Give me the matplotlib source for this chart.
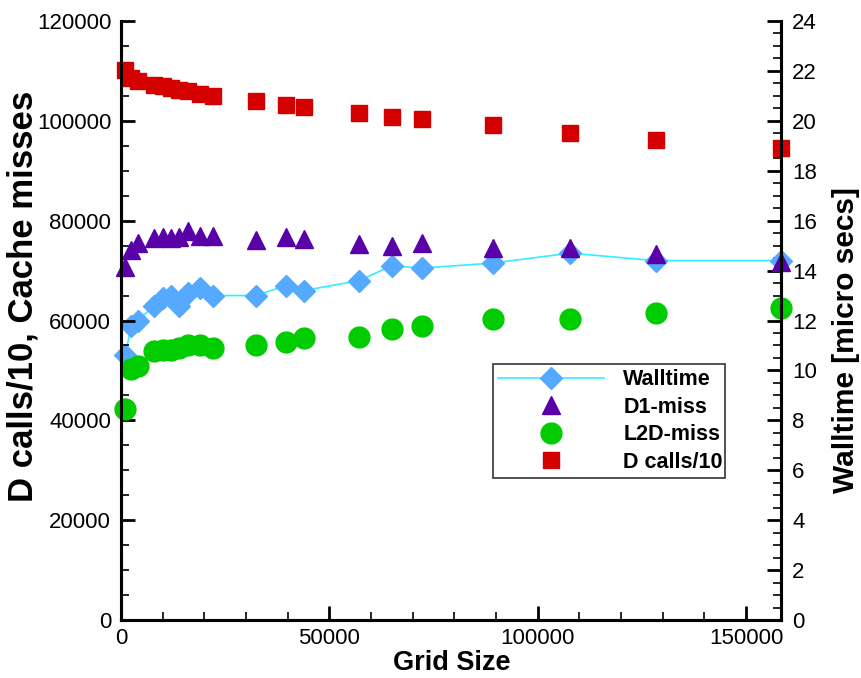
import matplotlib.pyplot as plt
from matplotlib.ticker import MultipleLocator
from matplotlib.lines import Line2D

plt.rcParams['font.family'] = ['Liberation Sans', 'DejaVu Sans']

# data
grid_size = [1000, 2500, 4000, 8000, 10000, 12000, 14000, 16000, 19000, 22000,
             32300, 39700, 43900, 57200, 65000, 72200, 89200, 107800, 128300, 158400]
dcalls_10 = [110200, 108600, 108000, 107200, 106900, 106500, 106200, 105900, 105400, 104900,
             103900, 103200, 102700, 101500, 100700, 100300, 99100, 97500, 96200, 94500]
d1_miss = [70800, 74200, 75500, 76500, 76700, 76600, 76800, 77900, 77000, 76900,
           76200, 76700, 76300, 75300, 74900, 75500, 74500, 74500, 73300, 71800]
l2d_miss = [42200, 50300, 50900, 53800, 54000, 54100, 54500, 55100, 55100, 54400,
            55000, 55600, 56500, 56700, 58300, 59000, 60300, 60300, 61500, 62500]
walltime = [10.6, 11.8, 12.0, 12.6, 12.9, 13.0, 12.6, 13.1, 13.3, 13.0,
            13.0, 13.4, 13.2, 13.6, 14.2, 14.1, 14.3, 14.7, 14.4, 14.4]

red = '#d40000'
purple = '#5a00a8'
green = '#00cc00'
blue = '#55aaff'
cyan = '#33eeff'

fig = plt.figure(figsize=(8.61, 6.78), dpi=100)
ax = fig.add_axes([0.1405, 0.0855, 0.7666, 0.8835])
ax2 = ax.twinx()

# walltime on the right axis, drawn underneath the cache data
ax2.plot(grid_size, walltime, color=cyan, lw=1.2, zorder=1, clip_on=False)
ax2.plot(grid_size, walltime, ls='none', marker='D', ms=11.5, color=blue,
         mec=blue, zorder=2, clip_on=False)

ax.set_zorder(ax2.get_zorder() + 1)
ax.patch.set_visible(False)
ax.plot(grid_size, dcalls_10, ls='none', marker='s', ms=11, color=red, clip_on=False)
ax.plot(grid_size, l2d_miss, ls='none', marker='o', ms=15, color=green, clip_on=False)
ax.plot(grid_size, d1_miss, ls='none', marker='^', ms=13, color=purple, clip_on=False)

ax.set_xlim(0, 158400)
ax.set_ylim(0, 120000)
ax2.set_ylim(0, 24)

ax.xaxis.set_major_locator(MultipleLocator(50000))
ax.xaxis.set_minor_locator(MultipleLocator(10000))
ax.yaxis.set_major_locator(MultipleLocator(20000))
ax.yaxis.set_minor_locator(MultipleLocator(5000))
ax2.yaxis.set_major_locator(MultipleLocator(2))
ax2.yaxis.set_minor_locator(MultipleLocator(0.5))

for a in (ax, ax2):
    for s in a.spines.values():
        s.set_linewidth(2.2)
    a.spines['top'].set_visible(False)
    a.tick_params(which='major', direction='in', length=10, width=2, labelsize=16)
    a.tick_params(which='minor', direction='in', length=6, width=1.2)

ax.tick_params(axis='y', which='both', right=False, pad=7)
ax.tick_params(axis='x', which='both', top=False, pad=6)
ax2.tick_params(axis='y', which='both', left=False, pad=8)

ax.set_xlabel('Grid Size', fontsize=19.5, fontweight='bold')
ax.set_ylabel('D calls/10, Cache misses', fontsize=25, fontweight='bold')
ax2.set_ylabel('Walltime [micro secs]', fontsize=21.5, fontweight='bold')
ax.xaxis.set_label_coords(0.5015, -0.050)
ax.yaxis.set_label_coords(-0.1227, 0.54)
ax2.yaxis.set_label_coords(1.077, 0.467)

handles = [
    Line2D([], [], color=cyan, lw=1.2, marker='D', ms=11.5, mfc=blue, mec=blue),
    Line2D([], [], ls='none', marker='^', ms=13, color=purple),
    Line2D([], [], ls='none', marker='o', ms=15, color=green),
    Line2D([], [], ls='none', marker='s', ms=11, color=red),
]
labels = ['Walltime', 'D1-miss', 'L2D-miss', 'D calls/10']
leg = ax.legend(handles, labels, loc='lower left',
                bbox_to_anchor=(0.5636, 0.237, 0.3515, 0.19), mode='expand',
                fancybox=False, edgecolor='#333333', framealpha=1,
                prop={'size': 15.5, 'weight': 'bold'}, handlelength=4.9,
                borderpad=0.25, borderaxespad=0, labelspacing=0.3,
                handletextpad=0.9)
leg.get_frame().set_linewidth(1.2)

fig.savefig('out.png', dpi=100)
